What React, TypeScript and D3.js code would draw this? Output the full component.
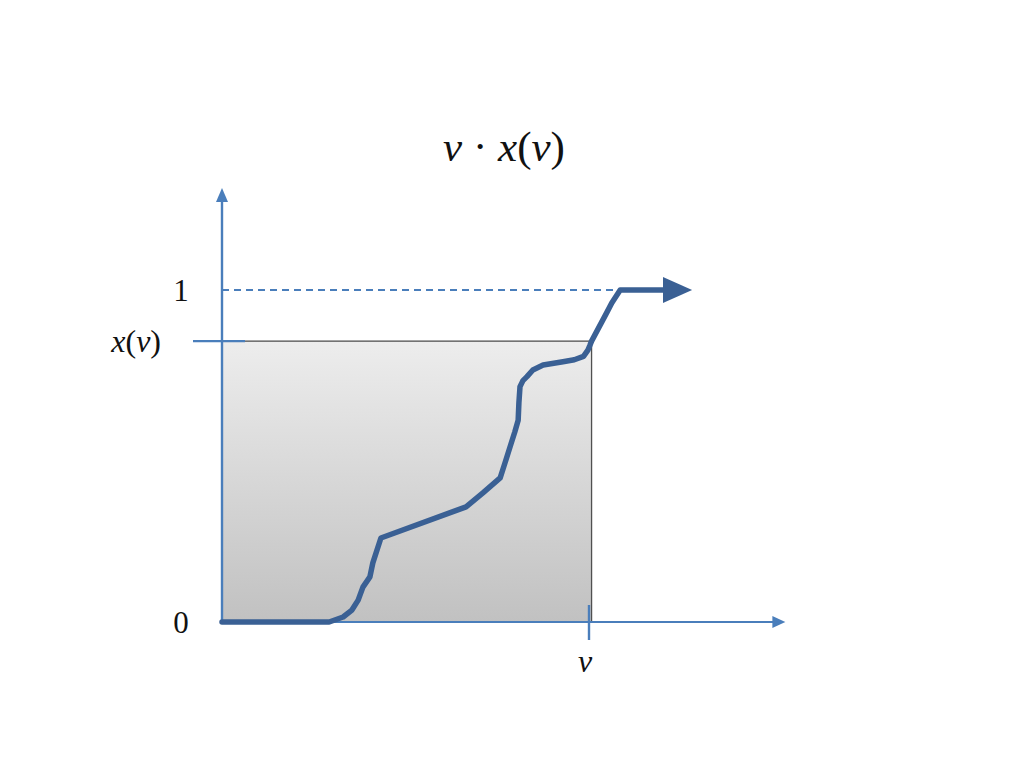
import React from "react";
import * as d3 from "d3";

// curve samples (v, x(v)) in data units
const curveV = [0, 0.292, 0.33, 0.354, 0.371, 0.384, 0.403, 0.411, 0.433, 0.665, 0.711, 0.758, 0.771, 0.785, 0.798, 0.807, 0.809, 0.812, 0.82, 0.831, 0.847, 0.875, 0.929, 0.96, 0.985, 0.997, 1.002, 1.007, 1.048, 1.062, 1.085, 1.207];
const curveX = [0, 0, 0.015, 0.036, 0.066, 0.105, 0.136, 0.178, 0.253, 0.347, 0.389, 0.434, 0.479, 0.528, 0.573, 0.608, 0.66, 0.709, 0.727, 0.739, 0.759, 0.774, 0.784, 0.79, 0.8, 0.819, 0.832, 0.846, 0.931, 0.961, 1, 1];
const vValue = 1;
const rectRight = 1.007;
const xOfV = 0.846;
const yTickLabels = ["0", "1"];
const yTickValues = [0, 1];

export default function App() {
  const W = 1024, H = 768;
  const xs = d3.scaleLinear().domain([0, 1]).range([222, 589]);
  const ys = d3.scaleLinear().domain([0, 1]).range([622, 290]);
  const axisColor = "#4a7ebb";
  const curveColor = "#3a6094";
  const pts: [number, number][] = curveV.map((v, i) => [v, curveX[i]]);
  const line = d3.line<[number, number]>().x(d => xs(d[0])).y(d => ys(d[1])).curve(d3.curveLinear);
  const xAxisEnd = xs(1.535);
  const yAxisTop = ys(1.307);
  const endV = curveV[curveV.length - 1];
  const arrowTip = xs(1.281);
  const font = "'Liberation Serif', serif";
  return (
    <svg width={W} height={H} style={{ position: "absolute", left: 0, top: 0, background: "#fff" }}>
      <defs>
        <linearGradient id="g" x1="0" y1="0" x2="0" y2="1">
          <stop offset="0%" stopColor="#ededed" />
          <stop offset="100%" stopColor="#c1c1c1" />
        </linearGradient>
      </defs>
      {/* shaded rectangle */}
      <rect x={xs(0)} y={ys(xOfV)} width={xs(rectRight) - xs(0)} height={ys(0) - ys(xOfV)} fill="url(#g)" stroke="#505050" strokeWidth={1.3} />
      {/* dashed line at 1 */}
      <line x1={xs(0)} x2={xs(1.085)} y1={ys(1)} y2={ys(1)} stroke={axisColor} strokeWidth={1.8} strokeDasharray="7,5" />
      {/* axes */}
      <line x1={xs(0)} x2={xAxisEnd - 10} y1={ys(0)} y2={ys(0)} stroke={axisColor} strokeWidth={2.2} />
      <path d={`M${xAxisEnd},${ys(0)} L${xAxisEnd - 13},${ys(0) - 6} L${xAxisEnd - 13},${ys(0) + 6} Z`} fill={axisColor} />
      <line x1={xs(0)} x2={xs(0)} y1={ys(0)} y2={yAxisTop + 10} stroke={axisColor} strokeWidth={2.4} />
      <path d={`M${xs(0)},${yAxisTop} L${xs(0) - 6},${yAxisTop + 14} L${xs(0) + 6},${yAxisTop + 14} Z`} fill={axisColor} />
      {/* ticks */}
      <line x1={193} x2={245} y1={ys(xOfV)} y2={ys(xOfV)} stroke={axisColor} strokeWidth={2.4} />
      <line x1={xs(vValue)} x2={xs(vValue)} y1={ys(0) - 17} y2={ys(0) + 18} stroke={axisColor} strokeWidth={2.4} />
      {/* curve */}
      <path d={line(pts) || ""} fill="none" stroke={curveColor} strokeWidth={5.5} strokeLinejoin="round" strokeLinecap="round" />
      <path d={`M${xs(endV) - 2},${ys(1) - 13} L${arrowTip},${ys(1)} L${xs(endV) - 2},${ys(1) + 13} Z`} fill={curveColor} />
      {/* labels */}
      {yTickValues.map((t, i) => (
        <text key={t} x={181} y={ys(t) + 11} fontSize={31} textAnchor="middle" fontFamily={font} fill="#111">{yTickLabels[i]}</text>
      ))}
      <text x={161} y={ys(xOfV) + 11} fontSize={32} textAnchor="end" fontFamily={font} fill="#111">
        <tspan fontStyle="italic">x</tspan><tspan>(</tspan><tspan fontStyle="italic">v</tspan><tspan>)</tspan>
      </text>
      <text x={585} y={672} fontSize={32} textAnchor="middle" fontFamily={font} fontStyle="italic" fill="#111">v</text>
      <text x={504} y={161} fontSize={43} textAnchor="middle" fontFamily={font} fill="#111">
        <tspan fontStyle="italic">v</tspan><tspan> · </tspan><tspan fontStyle="italic">x</tspan><tspan>(</tspan><tspan fontStyle="italic">v</tspan><tspan>)</tspan>
      </text>
    </svg>
  );
}
